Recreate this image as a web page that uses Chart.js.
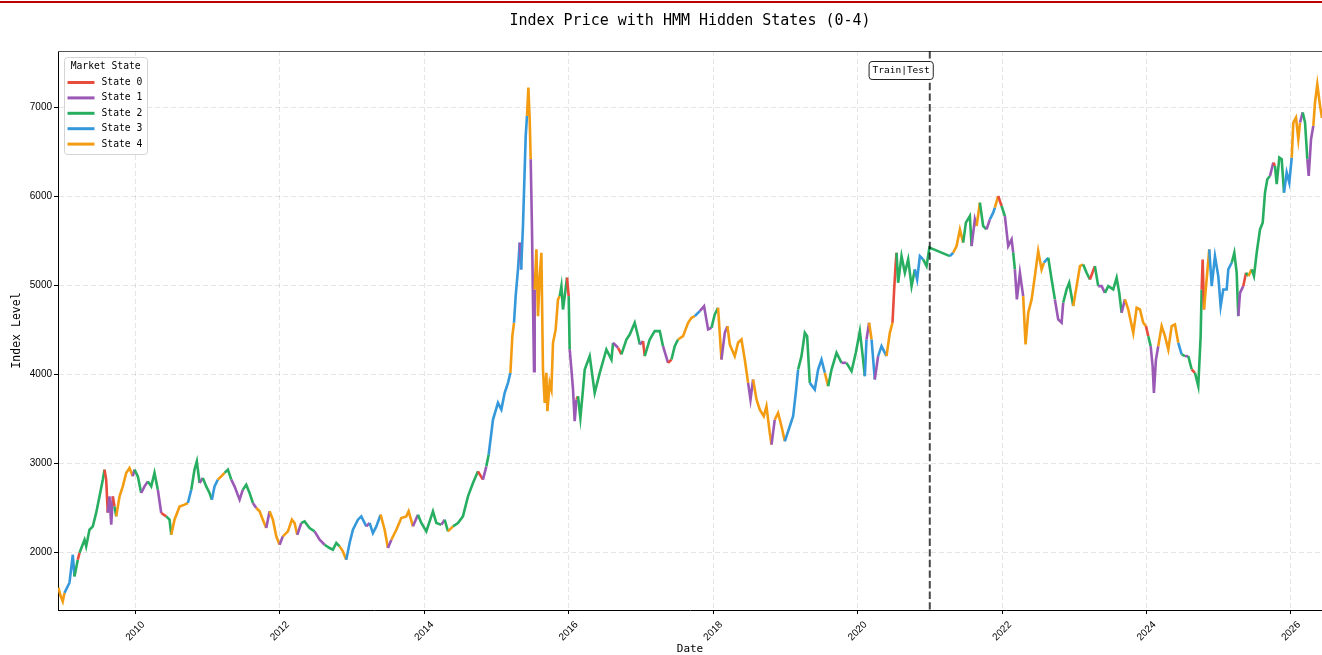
<!DOCTYPE html>
<html>
<head>
<meta charset="utf-8">
<title>Index Price with HMM Hidden States</title>
<script src="https://cdn.jsdelivr.net/npm/chart.js@4.4.1/dist/chart.umd.min.js"></script>
<style>
  html, body { margin: 0; padding: 0; background: #fff; }
  .wrap { position: relative; width: 1322px; height: 655px; overflow: hidden; }
  .topbar { position: absolute; left: 0; top: 1px; width: 100%; height: 2px; background: #c00000; }
  canvas { display: block; }
</style>
</head>
<body>
<div class="wrap">
  <canvas id="hmmChart" width="1322" height="655"></canvas>
  <div class="topbar"></div>
</div>
<script>
// trading dates as decimal years, close level, decoded HMM state per day
const tradeDates = [
  2008.938, 2008.965, 2008.997, 2009.021, 2009.090, 2009.136, 2009.159, 2009.205, 2009.229, 2009.298,
  2009.321, 2009.367, 2009.413, 2009.460, 2009.506, 2009.551, 2009.575, 2009.598, 2009.620, 2009.644,
  2009.668, 2009.690, 2009.713, 2009.737, 2009.783, 2009.828, 2009.875, 2009.921, 2009.967, 2009.990,
  2010.036, 2010.083, 2010.129, 2010.175, 2010.222, 2010.267, 2010.313, 2010.360, 2010.429, 2010.475,
  2010.499, 2010.544, 2010.614, 2010.683, 2010.729, 2010.776, 2010.821, 2010.853, 2010.891, 2010.936,
  2010.983, 2011.029, 2011.061, 2011.098, 2011.144, 2011.191, 2011.237, 2011.283, 2011.330, 2011.375,
  2011.445, 2011.490, 2011.537, 2011.583, 2011.629, 2011.676, 2011.722, 2011.767, 2011.814, 2011.860,
  2011.906, 2011.953, 2011.999, 2012.044, 2012.114, 2012.169, 2012.206, 2012.244, 2012.299, 2012.345,
  2012.414, 2012.483, 2012.553, 2012.622, 2012.691, 2012.737, 2012.784, 2012.830, 2012.875, 2012.922,
  2012.968, 2013.014, 2013.083, 2013.130, 2013.199, 2013.245, 2013.291, 2013.338, 2013.397, 2013.453,
  2013.499, 2013.546, 2013.615, 2013.684, 2013.753, 2013.785, 2013.845, 2013.914, 2013.961, 2014.030,
  2014.122, 2014.169, 2014.238, 2014.284, 2014.330, 2014.399, 2014.468, 2014.537, 2014.607, 2014.676,
  2014.745, 2014.814, 2014.861, 2014.893, 2014.953, 2015.022, 2015.069, 2015.115, 2015.161, 2015.194,
  2015.221, 2015.244, 2015.267, 2015.299, 2015.323, 2015.343, 2015.368, 2015.392, 2015.406, 2015.424,
  2015.443, 2015.461, 2015.475, 2015.493, 2015.507, 2015.521, 2015.530, 2015.554, 2015.576, 2015.600,
  2015.623, 2015.645, 2015.669, 2015.692, 2015.706, 2015.738, 2015.762, 2015.784, 2015.821, 2015.853,
  2015.877, 2015.900, 2015.922, 2015.946, 2015.978, 2016.001, 2016.015, 2016.039, 2016.061, 2016.084,
  2016.108, 2016.130, 2016.163, 2016.199, 2016.223, 2016.292, 2016.361, 2016.431, 2016.523, 2016.593,
  2016.615, 2016.684, 2016.731, 2016.800, 2016.846, 2016.915, 2016.961, 2016.985, 2017.030, 2017.054,
  2017.123, 2017.192, 2017.262, 2017.307, 2017.377, 2017.424, 2017.469, 2017.515, 2017.584, 2017.654,
  2017.701, 2017.746, 2017.816, 2017.875, 2017.931, 2017.978, 2018.023, 2018.069, 2018.116, 2018.162,
  2018.199, 2018.231, 2018.300, 2018.346, 2018.393, 2018.439, 2018.485, 2018.518, 2018.554, 2018.601,
  2018.647, 2018.702, 2018.739, 2018.785, 2018.809, 2018.854, 2018.900, 2018.947, 2018.993, 2019.062,
  2019.108, 2019.145, 2019.177, 2019.224, 2019.270, 2019.302, 2019.339, 2019.408, 2019.454, 2019.501,
  2019.547, 2019.593, 2019.640, 2019.709, 2019.778, 2019.847, 2019.917, 2019.976, 2020.032, 2020.077,
  2020.101, 2020.124, 2020.160, 2020.194, 2020.239, 2020.285, 2020.332, 2020.401, 2020.447, 2020.484,
  2020.507, 2020.526, 2020.540, 2020.562, 2020.609, 2020.655, 2020.701, 2020.748, 2020.793, 2020.825,
  2020.863, 2020.908, 2020.955, 2020.995, 2021.278, 2021.324, 2021.371, 2021.417, 2021.462, 2021.500,
  2021.555, 2021.579, 2021.624, 2021.648, 2021.694, 2021.739, 2021.786, 2021.832, 2021.878, 2021.901,
  2021.947, 2021.994, 2022.040, 2022.086, 2022.133, 2022.155, 2022.178, 2022.206, 2022.248, 2022.293,
  2022.326, 2022.363, 2022.410, 2022.455, 2022.501, 2022.548, 2022.580, 2022.640, 2022.687, 2022.732,
  2022.778, 2022.825, 2022.847, 2022.894, 2022.930, 2022.986, 2023.033, 2023.079, 2023.124, 2023.171,
  2023.217, 2023.286, 2023.332, 2023.379, 2023.425, 2023.471, 2023.540, 2023.587, 2023.623, 2023.656,
  2023.702, 2023.748, 2023.817, 2023.864, 2023.910, 2023.955, 2023.993, 2024.025, 2024.058, 2024.085,
  2024.103, 2024.131, 2024.163, 2024.210, 2024.256, 2024.302, 2024.349, 2024.394, 2024.440, 2024.487,
  2024.533, 2024.579, 2024.626, 2024.671, 2024.717, 2024.750, 2024.764, 2024.778, 2024.796, 2024.833,
  2024.869, 2024.903, 2024.948, 2024.994, 2025.027, 2025.063, 2025.110, 2025.133, 2025.180, 2025.216,
  2025.249, 2025.271, 2025.295, 2025.340, 2025.378, 2025.410, 2025.457, 2025.488, 2025.526, 2025.572,
  2025.609, 2025.641, 2025.673, 2025.710, 2025.756, 2025.779, 2025.803, 2025.839, 2025.872, 2025.904,
  2025.941, 2025.977, 2026.011, 2026.033, 2026.070, 2026.102, 2026.126, 2026.163, 2026.195, 2026.227,
  2026.246, 2026.278, 2026.310, 2026.333, 2026.365, 2026.403, 2026.430
];

const closePrices = [
  1607, 1520, 1453, 1550, 1663, 1977, 1734, 1921, 2000, 2146,
  2071, 2258, 2296, 2450, 2633, 2820, 2933, 2820, 2450, 2633,
  2315, 2633, 2520, 2408, 2633, 2745, 2896, 2952, 2858, 2933,
  2858, 2671, 2745, 2801, 2745, 2896, 2708, 2446, 2408, 2371,
  2202, 2371, 2520, 2540, 2558, 2708, 2933, 3026, 2783, 2840,
  2745, 2671, 2596, 2745, 2820, 2858, 2896, 2933, 2820, 2745,
  2596, 2708, 2764, 2671, 2558, 2502, 2465, 2371, 2278, 2465,
  2371, 2184, 2090, 2184, 2240, 2371, 2334, 2202, 2334, 2352,
  2278, 2240, 2146, 2090, 2053, 2034, 2109, 2071, 2015, 1921,
  2109, 2258, 2371, 2408, 2296, 2334, 2221, 2296, 2427, 2258,
  2053, 2146, 2258, 2390, 2408, 2465, 2296, 2427, 2334, 2240,
  2465, 2334, 2315, 2371, 2240, 2296, 2334, 2408, 2633, 2783,
  2914, 2820, 2970, 3100, 3495, 3683, 3607, 3795, 3907, 4020,
  4431, 4582, 4881, 5181, 5481, 5180, 5668, 6305, 6680, 6905,
  7223, 6867, 6417, 5630, 4806, 4038, 4956, 5406, 4656, 5106,
  5368, 4057, 3683, 4020, 3589, 3907, 3832, 4357, 4507, 4844,
  4881, 4993, 4731, 4881, 5088, 4881, 4282, 4057, 3832, 3476,
  3720, 3757, 3514, 3832, 4057, 4207, 3795, 4020, 4282, 4169,
  4357, 4301, 4226, 4394, 4450, 4582, 4431, 4338, 4375, 4207,
  4394, 4488, 4488, 4319, 4132, 4169, 4319, 4394, 4431, 4582,
  4638, 4656, 4713, 4769, 4507, 4526, 4675, 4750, 4169, 4469,
  4544, 4338, 4207, 4357, 4394, 4169, 3907, 3720, 3945, 3720,
  3607, 3532, 3645, 3345, 3214, 3495, 3570, 3420, 3251, 3420,
  3532, 3795, 4057, 4207, 4469, 4431, 3907, 3832, 4057, 4169,
  4020, 3870, 4057, 4245, 4132, 4132, 4038, 4245, 4488, 4169,
  3982, 4394, 4582, 4394, 3945, 4207, 4319, 4207, 4469, 4582,
  4956, 5218, 5368, 5031, 5330, 5143, 5293, 4993, 5181, 5068,
  5330, 5293, 5218, 5425, 5330, 5368, 5443, 5630, 5481, 5706,
  5780, 5443, 5743, 5668, 5930, 5668, 5630, 5743, 5818, 5874,
  6005, 5893, 5780, 5443, 5518, 5368, 5181, 4844, 5143, 4881,
  4338, 4694, 4844, 5106, 5387, 5181, 5256, 5312, 5068, 4844,
  4619, 4582, 4806, 4956, 5031, 4769, 4993, 5218, 5237, 5143,
  5068, 5218, 4993, 4993, 4918, 4993, 4956, 5088, 4918, 4694,
  4844, 4731, 4469, 4750, 4731, 4582, 4544, 4431, 4319, 4094,
  3795, 4169, 4319, 4544, 4431, 4282, 4544, 4563, 4357, 4226,
  4207, 4207, 4057, 4020, 3870, 4431, 4956, 5293, 4731, 5068,
  5406, 4993, 5330, 5106, 4769, 4956, 4956, 5181, 5256, 5368,
  5143, 4656, 4918, 4993, 5143, 5106, 5181, 5106, 5368, 5630,
  5706, 6043, 6193, 6230, 6380, 6343, 6137, 6436, 6418, 6043,
  6268, 6155, 6436, 6830, 6886, 6643, 6830, 6943, 6830, 6418,
  6230, 6643, 6793, 7055, 7260, 7017, 6880
];

const hiddenStates = [
  4,4,4,3,3,3,2,0,2,2, 2,2,2,2,2,2,0,0,1,1, 1,0,2,4,4,4,4,4,1,2, 2,1,1,2,2,2,1,0,2,2,
  4,4,4,4,3,2,2,2,1,2, 2,2,3,3,4,4,2,2,1,1, 1,2,2,2,1,4,4,4,1,4, 4,4,1,4,4,4,4,1,2,2,
  2,1,1,2,2,2,2,4,4,3, 3,3,3,3,1,3,3,3,4,4, 1,4,4,4,4,4,1,2,2,2, 2,2,1,2,4,2,2,2,2,2,
  0,1,2,3,3,3,3,3,3,4, 4,3,3,3,1,3,3,3,3,4, 4,4,1,1,1,1,4,4,4,4, 4,4,4,4,4,4,4,4,4,4,
  2,2,2,2,0,2,1,1,1,1, 0,2,2,2,2,2,2,2,2,2, 1,0,2,2,2,2,2,1,0,2, 2,2,2,1,0,2,2,4,4,4,
  4,3,1,1,1,2,2,4,1,1, 4,4,4,4,4,4,1,1,4,4, 4,4,4,4,1,4,4,4,3,3, 3,3,2,2,2,2,3,3,3,3,
  4,2,2,2,1,2,2,2,2,2, 3,1,4,3,1,3,3,4,4,0, 0,0,2,2,2,2,2,2,3,3, 3,2,2,2,3,4,4,4,2,2,
  2,1,1,4,2,2,1,3,3,4, 0,2,1,1,1,2,1,1,1,4, 4,4,4,4,4,4,3,2,2,1, 1,1,2,2,2,4,4,4,2,2,
  0,2,1,1,2,2,2,2,2,1, 4,4,4,4,4,4,0,2,1,1, 1,1,4,4,4,4,4,4,3,2, 1,2,0,2,2,2,0,0,4,4,
  3,3,3,3,3,3,3,3,2,2, 2,1,1,0,2,4,2,2,2,2, 2,2,2,1,0,2,2,2,2,3, 3,3,4,4,4,4,1,2,2,1,
  1,1,4,4,4,4,4
];

const stateNames = ['State 0', 'State 1', 'State 2', 'State 3', 'State 4'];
const stateColors = ['#e74c3c', '#9b59b6', '#27ae60', '#3498db', '#f39c12'];
const yearTicks = [2010, 2012, 2014, 2016, 2018, 2020, 2022, 2024, 2026];
const levelTicks = [2000, 3000, 4000, 5000, 6000, 7000];
const trainEnd = 2021.0;

const monoFont = '"DejaVu Sans Mono", monospace';
const tickFont = '"Liberation Sans", Arial, sans-serif';

// legend box drawn inside the plot, upper left
const stateLegend = {
  id: 'stateLegend',
  afterDraw(chart) {
    const {ctx, chartArea} = chart;
    const x0 = chartArea.left + 6;
    const y0 = chartArea.top + 6;
    ctx.save();
    ctx.beginPath();
    ctx.roundRect(x0 + 0.5, y0 + 0.5, 83, 97, 3);
    ctx.fillStyle = 'rgba(255,255,255,0.85)';
    ctx.fill();
    ctx.strokeStyle = '#d4d4d4';
    ctx.lineWidth = 1;
    ctx.stroke();
    ctx.font = '9.7px ' + monoFont;
    ctx.fillStyle = '#000';
    ctx.textBaseline = 'middle';
    ctx.fillText('Market State', x0 + 6.7, y0 + 9.5);
    stateNames.forEach((name, i) => {
      const cy = y0 + 25.5 + i * 15.4;
      ctx.strokeStyle = stateColors[i];
      ctx.lineWidth = 3;
      ctx.beginPath();
      ctx.moveTo(x0 + 3.5, cy);
      ctx.lineTo(x0 + 30.5, cy);
      ctx.stroke();
      ctx.fillText(name, x0 + 37.5, cy);
    });
    ctx.restore();
  }
};

// train/test split marker plus top frame line
const splitMarker = {
  id: 'splitMarker',
  afterDatasetsDraw(chart) {
    const {ctx, chartArea, scales} = chart;
    const px = scales.x.getPixelForValue(trainEnd);
    ctx.save();
    ctx.strokeStyle = '#555';
    ctx.lineWidth = 1;
    ctx.beginPath();
    ctx.moveTo(chartArea.left, chartArea.top + 0.5);
    ctx.lineTo(chartArea.right, chartArea.top + 0.5);
    ctx.stroke();

    ctx.strokeStyle = 'rgba(0,0,0,0.72)';
    ctx.lineWidth = 2;
    ctx.setLineDash([7.4, 3.2]);
    ctx.beginPath();
    ctx.moveTo(px, chartArea.top);
    ctx.lineTo(px, chartArea.bottom);
    ctx.stroke();

    ctx.setLineDash([]);
    ctx.font = '9.5px ' + monoFont;
    const label = 'Train|Test';
    const w = ctx.measureText(label).width;
    ctx.beginPath();
    ctx.roundRect(px - w - 3.5, chartArea.top + 10.5, w + 7, 18, 3);
    ctx.fillStyle = '#fff';
    ctx.fill();
    ctx.strokeStyle = '#222';
    ctx.lineWidth = 1;
    ctx.stroke();
    ctx.fillStyle = '#000';
    ctx.textBaseline = 'middle';
    ctx.textAlign = 'right';
    ctx.fillText(label, px, chartArea.top + 20);
    ctx.restore();
  }
};

const points = tradeDates.map((d, i) => ({x: d, y: closePrices[i]}));

const gridStyle = {
  color: 'rgba(0,0,0,0.1)',
  tickBorderDash: [],
  tickColor: '#000',
  tickLength: 4,
  tickWidth: 1
};

new Chart(document.getElementById('hmmChart'), {
  type: 'line',
  data: {
    datasets: [{
      label: 'Index Level',
      data: points,
      borderWidth: 2.6,
      borderColor: stateColors[2],
      pointRadius: 0,
      tension: 0,
      segment: {
        borderColor: ctx => stateColors[hiddenStates[ctx.p0DataIndex]]
      }
    }]
  },
  options: {
    responsive: false,
    devicePixelRatio: 1,
    animation: false,
    events: [],
    layout: { padding: 0 },
    plugins: {
      legend: { display: false },
      tooltip: { enabled: false },
      title: {
        display: true,
        text: 'Index Price with HMM Hidden States (0-4)',
        fullSize: false,
        color: '#000',
        font: { family: monoFont, size: 15, weight: 'normal', lineHeight: 1.2 },
        padding: { top: 12, bottom: 21 }
      }
    },
    scales: {
      x: {
        type: 'linear',
        min: 2008.931,
        max: 2026.43,
        afterBuildTicks: axis => { axis.ticks = yearTicks.map(v => ({value: v})); },
        afterFit: axis => { axis.height = 45; axis.paddingLeft = 0; axis.paddingRight = 0; },
        ticks: {
          autoSkip: false,
          minRotation: 45,
          maxRotation: 45,
          labelOffset: 8,
          padding: 5,
          color: '#000',
          font: { family: tickFont, size: 10 },
          callback: v => String(v)
        },
        grid: gridStyle,
        border: { display: true, color: '#000', width: 1, dash: [5, 3] },
        title: {
          display: true,
          text: 'Date',
          color: '#000',
          font: { family: monoFont, size: 11, lineHeight: 1 },
          padding: 0
        }
      },
      y: {
        min: 1357,
        max: 7633,
        afterBuildTicks: axis => { axis.ticks = levelTicks.map(v => ({value: v})); },
        afterFit: axis => { axis.width = 58; },
        ticks: {
          padding: 2,
          color: '#000',
          font: { family: tickFont, size: 10 },
          callback: v => String(v)
        },
        grid: gridStyle,
        border: { display: true, color: '#000', width: 1, dash: [5, 3] },
        title: {
          display: true,
          text: 'Index Level',
          color: '#000',
          font: { family: monoFont, size: 11.5, lineHeight: 1.2 },
          padding: { top: 10, bottom: 0 }
        }
      }
    }
  },
  plugins: [splitMarker, stateLegend]
});
</script>
</body>
</html>
